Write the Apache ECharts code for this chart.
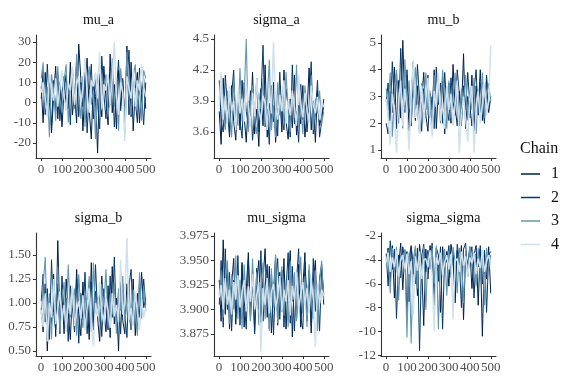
<!DOCTYPE html>
<html>
<head>
<meta charset="utf-8">
<script src="https://cdn.jsdelivr.net/npm/echarts@6/dist/echarts.min.js"></script>
<style>html,body{margin:0;padding:0;background:#fff}#c{width:576px;height:384px}</style>
</head>
<body>
<div id="c"></div>
<script>
const iterations = [1,10,20,30,40,50,60,70,80,90,100,110,120,130,140,150,160,170,180,190,200,210,220,230,240,250,260,270,280,290,300,310,320,330,340,350,360,370,380,390,400,410,420,430,440,450,460,470,480,490,500];
const chains = ['1','2','3','4'];
const panelNames = ['mu_a','sigma_a','mu_b','sigma_b','mu_sigma','sigma_sigma'];

const mu_a_1 = [8,-10,15,-5,12,-15,3,18,-8,10, -12,6,14,-3,20,-6,5,-10,29,12, -14,8,22,-4,-18,10,3,-25,14,-7, 18,2,-11,24,-5,9,-13,16,-2,12, -9,28,-6,20,-14,7,15,-10,4,12, -3];
const mu_a_2 = [2,16,-6,19,0,-12,11,-4,14,-9, 5,13,-2,9,-11,17,1,21,-7,10, -2,15,-15,6,19,-8,12,0,-13,23, 4,-8,13,-1,17,-12,6,21,-4,11, -15,9,26,-7,14,1,-10,17,5,-11, 10];
const mu_a_3 = [12,20,-3,8,-17,14,6,-9,18,2, -5,11,19,-10,7,15,-3,24,4,-8, 13,-12,9,18,-1,6,-18,11,20,-4, 8,14,-7,3,22,-2,10,-14,17,6, -8,25,2,-6,13,19,-3,8,-9,16, 12];
const mu_a_4 = [5,10,2,-7,14,7,1,12,-2,8, 16,3,-4,10,6,18,-1,9,13,0, 7,22,4,-5,11,8,15,2,25,-3, 9,6,14,-1,12,30,4,-6,10,5, -19,13,7,2,17,-2,11,6,19,8, 3];

const sigma_a_1 = [3.80,3.48,4.12,3.65,3.95,3.55,4.05,3.70,3.52,3.98, 3.62,4.10,3.75,3.50,3.90,3.68,4.18,3.58,3.82,3.46, 4.02,3.66,4.25,3.55,3.88,3.72,4.08,3.50,3.78,3.95, 3.60,4.20,3.70,3.53,3.92,3.64,4.15,3.57,3.86,3.68, 4.05,3.55,3.78,4.22,3.62,3.90,3.50,4.00,3.66,3.75, 3.85];
const sigma_a_2 = [4.10,3.70,3.60,4.15,3.85,3.58,3.96,4.20,3.62,3.88, 3.72,3.54,4.08,3.80,3.66,4.00,3.52,3.76,4.12,3.60, 3.92,4.44,3.65,3.82,3.48,4.05,3.70,3.90,3.56,4.18, 3.74,3.62,4.02,3.84,3.55,4.25,3.68,3.80,3.50,4.06, 3.72,3.95,3.60,3.85,4.28,3.58,3.78,4.10,3.55,3.70, 3.92];
const sigma_a_3 = [3.92,4.15,3.75,3.62,4.00,3.85,3.55,4.10,3.78,3.66, 4.22,3.70,3.95,4.50,3.60,3.88,4.05,3.72,3.58,3.98, 3.82,4.12,3.66,3.90,4.30,3.62,3.86,3.55,4.08,3.76, 3.95,3.68,4.18,3.80,3.60,4.02,3.74,4.25,3.64,3.88, 3.58,4.05,3.82,3.70,4.15,3.62,3.92,3.78,4.00,3.68, 3.80];
const sigma_a_4 = [3.85,4.18,3.72,3.95,3.68,4.05,3.80,3.90,3.62,4.00, 3.78,3.92,3.70,4.08,3.86,3.65,3.98,3.75,4.12,3.82, 3.70,3.95,3.88,3.62,4.02,3.78,4.47,3.85,3.72,3.96, 3.80,4.10,3.68,3.90,3.76,4.00,3.84,3.66,4.15,3.88, 3.74,3.98,3.82,3.70,4.05,3.86,3.78,3.94,3.72,3.90, 3.84];

const mu_b_1 = [2.0,1.6,3.2,2.4,4.1,1.8,3.6,2.2,5.1,2.6, 3.8,1.7,2.9,4.3,2.1,3.4,1.6,2.8,3.9,2.3, 1.7,3.1,2.5,4.0,1.8,3.3,2.2,3.7,1.6,2.9, 3.5,2.0,4.2,2.6,1.9,3.2,2.4,4.6,1.8,3.0, 2.2,3.8,1.7,3.4,2.5,4.0,2.1,2.8,3.6,2.4, 3.0];
const mu_b_2 = [2.8,3.5,2.1,4.3,2.7,3.9,2.0,4.8,3.0,2.4, 4.0,2.6,1.9,3.6,2.4,4.2,2.9,1.7,3.3,2.5, 3.8,2.2,3.0,1.8,4.1,2.7,3.5,2.0,3.9,2.6, 2.1,3.7,2.8,2.3,4.0,3.1,1.9,3.4,2.5,3.9, 2.7,1.9,3.2,4.0,2.3,3.5,2.8,2.0,3.8,2.6, 2.9];
const mu_b_3 = [3.3,2.5,3.9,1.5,3.0,4.0,2.3,3.4,1.8,4.4, 2.7,3.6,2.0,3.1,4.1,2.4,1.7,3.5,2.8,3.9, 2.3,3.2,1.9,3.8,2.6,3.4,2.0,4.0,2.9,1.8, 3.6,2.2,3.0,3.9,2.4,1.9,3.3,2.7,3.8,2.1, 3.1,2.5,3.7,1.6,3.2,2.4,3.9,2.2,3.0,3.5, 2.8];
const mu_b_4 = [2.9,2.2,1.2,3.1,2.5,0.9,2.8,3.6,1.9,3.3, 2.4,1.0,3.0,4.3,2.2,2.7,1.6,3.4,2.0,2.9, 3.7,2.3,1.5,3.2,2.6,3.9,2.1,2.8,1.8,3.4, 2.5,3.1,1.9,2.7,3.6,0.9,2.4,3.0,2.2,1.3, 2.9,3.4,0.9,2.6,3.2,2.0,2.7,3.5,2.3,2.8, 4.9];

const sigma_b_1 = [0.95,0.70,1.20,0.50,1.05,0.78,1.30,0.65,1.65,0.82, 1.10,0.68,1.25,0.90,0.62,1.15,0.75,1.35,0.88,0.66, 1.22,0.80,1.05,0.62,1.42,0.72,1.12,0.85,0.60,1.28, 0.92,0.70,1.18,0.64,1.38,0.78,1.05,0.50,1.30,0.82, 0.68,1.20,0.90,0.72,1.25,0.66,1.10,0.85,1.32,0.95, 1.05];
const sigma_b_2 = [1.02,1.30,0.80,1.15,0.62,1.45,0.90,0.72,1.20,0.68, 1.28,0.85,1.05,0.60,1.18,0.95,0.70,1.25,0.58,1.10, 0.82,1.32,0.68,1.00,1.22,0.74,1.40,0.88,1.08,0.65, 1.15,0.92,0.72,1.28,0.85,1.48,0.78,1.12,0.68,1.20, 0.90,0.64,1.18,1.35,0.78,1.05,0.70,1.22,0.88,1.25, 0.98];
const sigma_b_3 = [0.88,1.18,1.48,0.75,1.10,0.62,1.25,0.95,1.38,0.70, 1.05,1.22,0.78,1.40,0.85,1.00,1.15,0.66,1.30,0.92, 0.74,1.12,0.98,1.28,0.70,1.42,0.90,1.06,0.80,1.20, 0.96,1.35,0.76,1.08,0.88,1.22,0.68,1.15,0.92,1.28, 0.80,1.02,1.24,0.72,1.14,0.96,0.66,1.32,0.84,1.18, 0.92];
const sigma_b_4 = [0.92,0.75,1.10,0.60,1.00,0.85,1.25,0.78,0.95,1.12, 0.82,0.98,0.70,1.05,0.88,1.18,0.76,0.92,1.02,0.84, 1.08,0.72,0.95,1.15,0.80,0.55,1.00,0.86,1.22,0.90, 0.78,1.05,0.92,0.74,1.10,0.86,0.98,0.80,1.45,0.88, 1.00,1.68,0.82,0.95,0.76,1.12,0.90,0.72,1.04,0.85, 0.95];

const mu_sigma_1 = [3.930,3.888,3.971,3.895,3.945,3.880,3.925,3.952,3.885,3.935, 3.900,3.948,3.882,3.920,3.958,3.890,3.940,3.878,3.928,3.950, 3.886,3.930,3.962,3.892,3.944,3.876,3.918,3.955,3.884,3.938, 3.898,3.952,3.880,3.926,3.960,3.872,3.935,3.890,3.946,3.882, 3.922,3.958,3.888,3.940,3.876,3.928,3.950,3.884,3.932,3.946, 3.905];
const mu_sigma_2 = [3.905,3.950,3.882,3.962,3.900,3.938,3.878,3.930,3.892,3.955, 3.884,3.945,3.910,3.880,3.950,3.895,3.934,3.875,3.942,3.900, 3.960,3.888,3.925,3.946,3.880,3.936,3.874,3.928,3.952,3.890, 3.940,3.882,3.920,3.958,3.886,3.944,3.878,3.930,3.962,3.892, 3.880,3.948,3.904,3.936,3.884,3.952,3.898,3.926,3.878,3.942, 3.915];
const mu_sigma_3 = [3.915,3.940,3.892,3.928,3.950,3.885,3.936,3.900,3.955,3.890, 3.930,3.880,3.946,3.905,3.925,3.888,3.952,3.898,3.938,3.884, 3.920,3.948,3.890,3.932,3.878,3.942,3.902,3.956,3.886,3.926, 3.944,3.894,3.930,3.882,3.950,3.908,3.938,3.888,3.920,3.954, 3.896,3.934,3.882,3.946,3.910,3.890,3.940,3.878,3.928,3.950, 3.910];
const mu_sigma_4 = [3.912,3.925,3.900,3.932,3.905,3.920,3.895,3.928,3.910,3.935, 3.902,3.918,3.930,3.898,3.924,3.908,3.936,3.900,3.915,3.928, 3.857,3.922,3.905,3.932,3.896,3.918,3.926,3.902,3.912,3.934, 3.898,3.920,3.908,3.930,3.894,3.924,3.910,3.938,3.900,3.916, 3.928,3.904,3.922,3.896,3.932,3.910,3.862,3.926,3.906,3.920, 3.914];

const sigma_sigma_1 = [-4.0,-3.0,-5.8,-2.8,-7.2,-3.5,-4.6,-2.6,-6.5,-3.2, -8.8,-3.8,-2.9,-5.2,-3.4,-7.0,-2.7,-4.4,-9.5,-3.1, -5.6,-2.8,-4.2,-6.8,-3.0,-3.6,-8.4,-2.9,-4.8,-3.3, -6.2,-2.7,-3.9,-7.6,-3.2,-5.0,-2.8,-9.0,-3.5,-4.4, -2.9,-6.4,-3.6,-2.8,-7.8,-3.1,-10.4,-3.4,-5.6,-2.9, -6.8];
const sigma_sigma_2 = [-3.5,-6.2,-2.4,-4.8,-3.1,-8.9,-3.6,-5.5,-2.9,-4.1, -3.3,-7.5,-2.8,-4.6,-6.0,-3.0,-11.6,-3.7,-2.7,-5.0, -3.2,-4.5,-2.6,-7.8,-3.4,-5.8,-2.9,-9.8,-3.6,-4.2, -2.8,-5.2,-3.3,-6.6,-2.7,-4.0,-8.0,-3.1,-2.6,-5.4, -3.8,-2.9,-7.2,-3.5,-4.6,-2.8,-6.0,-3.2,-8.4,-3.6, -3.3];
const sigma_sigma_3 = [-4.6,-3.2,-6.8,-3.0,-5.0,-2.9,-7.4,-3.6,-4.2,-3.1, -10.5,-3.4,-11.0,-4.0,-2.8,-6.4,-3.3,-5.2,-2.9,-8.2, -3.5,-4.8,-3.0,-6.0,-2.8,-9.8,-3.7,-4.4,-3.1,-7.0, -3.3,-5.5,-2.9,-4.2,-6.8,-3.0,-3.9,-7.6,-3.2,-5.0, -2.9,-4.6,-3.4,-6.2,-3.0,-5.4,-3.2,-7.8,-3.0,-4.8, -3.6];
const sigma_sigma_4 = [-4.2,-3.4,-5.0,-3.8,-4.6,-3.2,-5.4,-4.0,-3.6,-4.8, -3.5,-5.2,-4.1,-8.6,-3.7,-4.9,-3.3,-5.6,-4.0,-3.9, -4.6,-3.2,-5.1,-10.0,-3.8,-4.4,-3.4,-5.3,-4.2,-3.6, -4.8,-3.5,-9.0,-4.1,-3.9,-5.0,-3.3,-4.5,-3.7,-5.4, -3.8,-4.3,-3.4,-5.2,-3.9,-4.7,-3.2,-5.0,-4.1,-3.6, -4.4];

// ---- tick values / labels ----
const xTicks = [0,100,200,300,400,500];
const xTickLabels = ['0','100','200','300','400','500'];
const mu_a_ticks = [-20,-10,0,10,20,30];
const mu_a_labels = ['-20','-10','0','10','20','30'];
const sigma_a_ticks = [3.6,3.9,4.2,4.5];
const sigma_a_labels = ['3.6','3.9','4.2','4.5'];
const mu_b_ticks = [1,2,3,4,5];
const mu_b_labels = ['1','2','3','4','5'];
const sigma_b_ticks = [0.5,0.75,1.0,1.25,1.5];
const sigma_b_labels = ['0.50','0.75','1.00','1.25','1.50'];
const mu_sigma_ticks = [3.875,3.9,3.925,3.95,3.975];
const mu_sigma_labels = ['3.875','3.900','3.925','3.950','3.975'];
const sigma_sigma_ticks = [-12,-10,-8,-6,-4,-2];
const sigma_sigma_labels = ['-12','-10','-8','-6','-4','-2'];

// ---- assemble ----
const panelSeries = [
  [mu_a_1, mu_a_2, mu_a_3, mu_a_4],
  [sigma_a_1, sigma_a_2, sigma_a_3, sigma_a_4],
  [mu_b_1, mu_b_2, mu_b_3, mu_b_4],
  [sigma_b_1, sigma_b_2, sigma_b_3, sigma_b_4],
  [mu_sigma_1, mu_sigma_2, mu_sigma_3, mu_sigma_4],
  [sigma_sigma_1, sigma_sigma_2, sigma_sigma_3, sigma_sigma_4]
];
const panelTicks = [
  [mu_a_ticks, mu_a_labels],
  [sigma_a_ticks, sigma_a_labels],
  [mu_b_ticks, mu_b_labels],
  [sigma_b_ticks, sigma_b_labels],
  [mu_sigma_ticks, mu_sigma_labels],
  [sigma_sigma_ticks, sigma_sigma_labels]
];
const yRange = [[-27.43,33.47],[3.348,4.539],[0.701,5.299],[0.448,1.729],[3.8526,3.978],[-12.05,-1.75]];
const chainColors = ['#011f4b','#03396c','#6497b1','#d1e1ec'];
const chainWidths = [1, 1, 1.1, 1.5];
const gridLeft = [36,214,381];
const gridTop = [35,233];
const gw = 115, gh = 123;
const FONT = '"Liberation Serif","DejaVu Serif",serif';
const axisCol = '#333333';
const labCol = '#4d4d4d';

const grids = [], xAxes = [], yAxes = [], series = [], titles = [];
panelNames.forEach((name, p) => {
  const col = p % 3, row = Math.floor(p / 3);
  grids.push({left: gridLeft[col], top: gridTop[row], width: gw, height: gh});
  xAxes.push({
    type: 'value', gridIndex: p, min: -24, max: 525,
    axisLine: {show: true, onZero: false, lineStyle: {color: axisCol, width: 1.1}},
    axisTick: {show: true, length: 3, customValues: xTicks, lineStyle: {color: axisCol}},
    axisLabel: {show: true, customValues: xTicks, margin: 5, color: labCol, fontFamily: FONT, fontSize: 13,
      formatter: v => xTickLabels[xTicks.indexOf(v)] ?? ''},
    splitLine: {show: false}
  });
  const [tv, tl] = panelTicks[p];
  yAxes.push({
    type: 'value', gridIndex: p, min: yRange[p][0], max: yRange[p][1],
    axisLine: {show: true, onZero: false, lineStyle: {color: axisCol, width: 1.1}},
    axisTick: {show: true, length: 3, customValues: tv, lineStyle: {color: axisCol}},
    axisLabel: {show: true, customValues: tv, margin: 5, color: labCol, fontFamily: FONT, fontSize: 13,
      formatter: v => { let i = tv.findIndex(t => Math.abs(t - v) < 1e-9); return i >= 0 ? tl[i] : ''; }},
    splitLine: {show: false}
  });
  titles.push({
    text: name, left: gridLeft[col] + gw / 2, top: gridTop[row] - 27, textAlign: 'center',
    textStyle: {fontFamily: FONT, fontSize: 14, fontWeight: 'normal', color: '#111'}
  });
  panelSeries[p].forEach((vals, c) => {
    series.push({
      type: 'line', name: chains[c], xAxisIndex: p, yAxisIndex: p,
      data: iterations.map((it, k) => [it, vals[k]]),
      showSymbol: false, symbol: 'none', color: chainColors[c],
      lineStyle: {color: chainColors[c], width: chainWidths[c]}, z: 2 + c
    });
  });
});
titles.push({text: 'Chain', left: 515, top: 136,
  textStyle: {fontFamily: FONT, fontSize: 16, fontWeight: 'normal', color: '#111'}});

const chart = echarts.init(document.getElementById('c'), null, {renderer: 'canvas'});
chart.setOption({
  animation: false,
  backgroundColor: '#ffffff',
  title: titles,
  grid: grids, xAxis: xAxes, yAxis: yAxes, series: series,
  legend: {
    data: chains.map((c, i) => ({name: c, icon: 'rect', itemStyle: {color: chainColors[i]}})),
    orient: 'vertical', left: 516, top: 161, itemWidth: 19, itemHeight: 1.5, itemGap: 7.5,
    textStyle: {fontFamily: FONT, fontSize: 16, color: '#111', padding: [0, 0, 0, 6]}
  }
});
</script>
</body>
</html>
